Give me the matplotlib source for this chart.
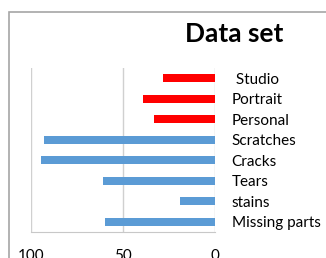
import matplotlib.pyplot as plt
from matplotlib.patches import Rectangle

plt.rcParams['font.family'] = ['Lato', 'DejaVu Sans']

cats = [" Studio", "Portrait", "Personal", "Scratches", "Cracks", "Tears", "stains", "Missing parts"]
vals = [28, 39, 33, 93, 94.5, 61, 19, 60]
cols = ['#FF0000'] * 3 + ['#5B9BD5'] * 5

fig = plt.figure(figsize=(3.26, 2.58), dpi=100)

# outer chart border (runs off the right and bottom edges)
fig.patches.append(Rectangle((9 / 326, -0.1), 1.2, 1 - 12 / 258 + 0.1,
                             transform=fig.transFigure, fill=False,
                             edgecolor='#A6A6A6', linewidth=1.2))

ax = fig.add_axes([31 / 326, 1 - 232 / 258, (215 - 31) / 326, (232 - 68) / 258])
ypos = list(range(len(cats)))
ax.barh(ypos, vals, height=0.37, color=cols, zorder=3)
ax.set_ylim(len(cats) - 0.5, -0.5)
ax.set_xlim(100, 0)
ax.set_xticks([100, 50, 0])
ax.set_xticklabels(['100', '50', '0'], fontsize=11)
ax.set_yticks(ypos)
ax.set_yticklabels(cats, fontsize=11)
ax.yaxis.tick_right()
ax.tick_params(axis='y', length=0, pad=12)
ax.tick_params(axis='x', length=0, pad=12)
ax.grid(axis='x', color='#D0D0D0', linewidth=1, zorder=0)
for s in ['top', 'left', 'right']:
    ax.spines[s].set_visible(False)
ax.spines['bottom'].set_color('#C8C8C8')

fig.text(234 / 326, 1 - 34 / 258, 'Data set', fontsize=19, fontweight='bold',
         ha='center', va='center')

fig.savefig('out.png', dpi=100)
